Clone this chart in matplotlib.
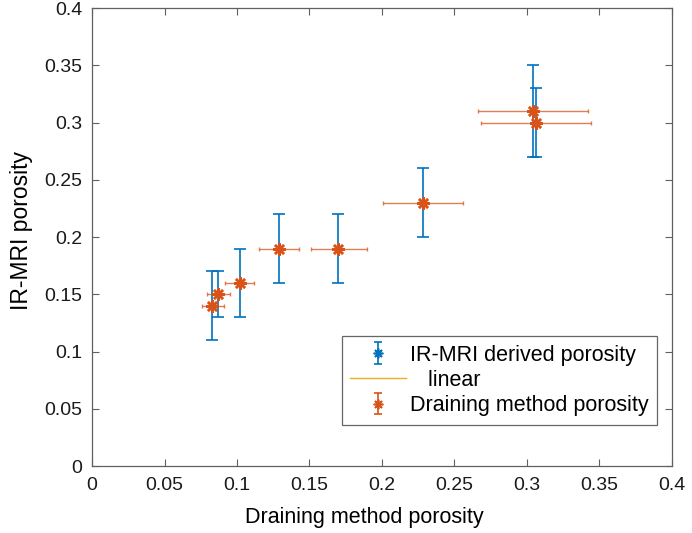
import numpy as np
import matplotlib.pyplot as plt

plt.rcParams['font.family'] = ['Liberation Sans', 'DejaVu Sans']

# draining method porosity and its uncertainty (lower / upper)
drain = [0.083, 0.087, 0.102, 0.129, 0.170, 0.228, 0.304, 0.306]
drain_lo = [0.007, 0.008, 0.010, 0.014, 0.019, 0.027, 0.038, 0.038]
drain_hi = [0.008, 0.008, 0.010, 0.014, 0.020, 0.028, 0.038, 0.038]

# IR-MRI derived porosity and its uncertainty (lower / upper)
mri = [0.14, 0.15, 0.16, 0.19, 0.19, 0.23, 0.31, 0.30]
mri_lo = [0.03, 0.02, 0.03, 0.03, 0.03, 0.03, 0.04, 0.03]
mri_hi = [0.03, 0.02, 0.03, 0.03, 0.03, 0.03, 0.04, 0.03]

blue = '#0072BD'
orange = '#D95319'
yellow = '#EDB120'
axcol = '#606060'
star = (8, 2, 0)

fig = plt.figure(figsize=(6.92, 5.33), dpi=100)
ax = fig.add_axes([0.133, 0.1257, 0.838, 0.859])

h1 = ax.errorbar(drain, mri, yerr=[mri_lo, mri_hi], fmt='none',
                 ecolor=blue, elinewidth=1.2, capsize=4, capthick=1.2)
ax.plot(drain, mri, linestyle='none', marker=star, markersize=8,
        markeredgecolor=blue, markeredgewidth=1.2)
ax.errorbar(drain, mri, xerr=[drain_lo, drain_hi], fmt='none',
            ecolor=orange, elinewidth=1, capsize=1.5, capthick=1,
            alpha=0.75)
ax.plot(drain, mri, linestyle='none', marker=star, markersize=9,
        markeredgecolor=orange, markeredgewidth=1.8, zorder=5)

# legend proxies (vertical error glyph with asterisk)
lg1 = ax.errorbar([np.nan], [np.nan], yerr=[[np.nan], [np.nan]], fmt='none',
                  ecolor=blue, elinewidth=1.2, capsize=3, capthick=1.2)
lg1m, = ax.plot([np.nan], [np.nan], linestyle='none', marker=star,
                markersize=7, markeredgecolor=blue, markeredgewidth=1.2)
lg2, = ax.plot([], [], color=yellow, linewidth=1)
lg3 = ax.errorbar([np.nan], [np.nan], yerr=[[np.nan], [np.nan]], fmt='none',
                  ecolor=orange, elinewidth=1.2, capsize=3, capthick=1.2)
lg3m, = ax.plot([np.nan], [np.nan], linestyle='none', marker=star,
                markersize=7, markeredgecolor=orange, markeredgewidth=1.2)

ax.set_xlim(0, 0.4)
ax.set_ylim(0, 0.4)
ticks = [0, 0.05, 0.1, 0.15, 0.2, 0.25, 0.3, 0.35, 0.4]
labels = ['0', '0.05', '0.1', '0.15', '0.2', '0.25', '0.3', '0.35', '0.4']
ax.set_xticks(ticks, labels)
ax.set_yticks(ticks, labels)
ax.tick_params(direction='in', top=True, right=True, labelsize=14,
               length=5, color=axcol, labelcolor='#1a1a1a')
ax.tick_params(axis='x', pad=8)
ax.tick_params(axis='y', pad=7)
for s in ax.spines.values():
    s.set_linewidth(0.9)
    s.set_color(axcol)

ax.set_xlabel('Draining method porosity', fontsize=15.5)
ax.set_ylabel('IR-MRI porosity', fontsize=16.5)
ax.xaxis.set_label_coords(0.47, -0.09)
ax.yaxis.set_label_coords(-0.102, 0.515)

leg = ax.legend(handles=[(lg1, lg1m), lg2, (lg3, lg3m)],
                labels=['IR-MRI derived porosity', '   linear',
                        'Draining method porosity'],
                loc='lower right', bbox_to_anchor=(0.974, 0.09),
                fontsize=15.5, frameon=True, fancybox=False,
                edgecolor='#404040', handlelength=2.6, borderpad=0.4,
                labelspacing=0.2, handletextpad=0.15, borderaxespad=0)
leg.get_frame().set_linewidth(0.9)

fig.savefig('out.png', dpi=100)
